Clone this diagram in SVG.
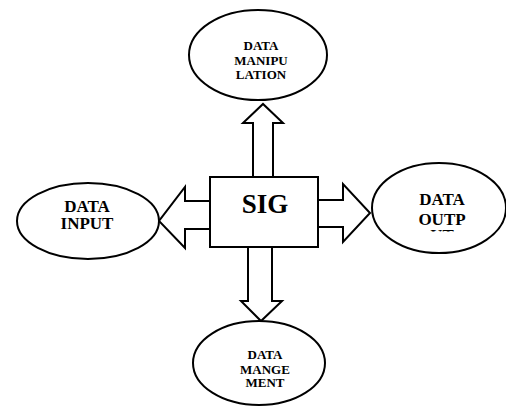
<svg xmlns="http://www.w3.org/2000/svg" width="506" height="407" viewBox="0 0 506 407">
<style>
.sh{fill:#fff;stroke:#000;stroke-width:2}
.ar{fill:#fff;stroke:#000;stroke-width:2;stroke-linejoin:miter}
.t{font-family:"Liberation Serif","Times New Roman",serif;font-weight:bold;text-anchor:middle;fill:#000}
.s{font-size:13px}
.m{font-size:17px}
</style>
<defs><clipPath id="cr"><rect x="360" y="150" width="146" height="81.5"/></clipPath></defs>
<g id="connectors">
<path class="ar" d="M253,177 V123 H243 L263,104 L283,123 H273 V177 Z"/>
<path class="ar" d="M248,247 V301 H241 L261,321 L282,301 H272 V247 Z"/>
<path class="ar" d="M210,201 H185 V187 L159,221 L185,248 V229 H210 Z"/>
<path class="ar" d="M318,200 H343 V184 L370,213 L343,242 V227 H318 Z"/>
</g>
<g id="sig">
<rect class="sh" x="210" y="177" width="108" height="70"/>
<text class="t" x="265" y="213" font-size="27">SIG</text>
</g>
<g id="manipulation">
<ellipse class="sh" cx="258" cy="55" rx="69" ry="45"/>
<text class="t s" x="261" y="50">DATA</text>
<text class="t s" x="261" y="65">MANIPU</text>
<text class="t s" x="261" y="78.5">LATION</text>
</g>
<g id="input">
<ellipse class="sh" cx="88" cy="221" rx="71" ry="38"/>
<text class="t m" x="87" y="212">DATA</text>
<text class="t m" x="87" y="228.5">INPUT</text>
</g>
<g id="output">
<ellipse class="sh" cx="439" cy="208" rx="67" ry="45"/>
<text class="t m" x="442" y="205">DATA</text>
<text class="t m" x="442" y="225">OUTP</text>
<text class="t m" x="442" y="241" clip-path="url(#cr)">UT</text>
</g>
<g id="management">
<ellipse class="sh" cx="259" cy="363" rx="66" ry="42"/>
<text class="t s" x="265" y="359">DATA</text>
<text class="t s" x="265" y="374">MANGE</text>
<text class="t s" x="265" y="386.5">MENT</text>
</g>
</svg>
